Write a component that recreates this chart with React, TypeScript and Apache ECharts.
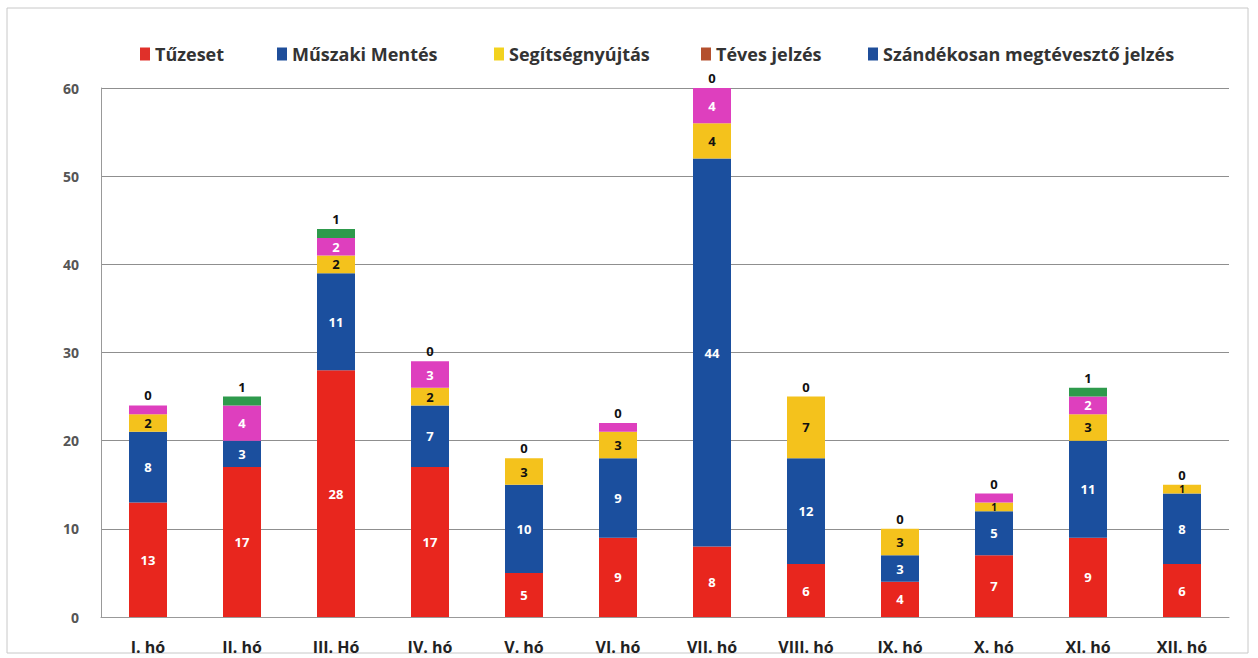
import React, { useEffect, useRef } from "react";
import * as echarts from "echarts";

const categories = ["I. hó", "II. hó", "III. Hó", "IV. hó", "V. hó", "VI. hó", "VII. hó", "VIII. hó", "IX. hó", "X. hó", "XI. hó", "XII. hó"];
const seriesNames = ["Tűzeset", "Műszaki Mentés", "Segítségnyújtás", "Téves jelzés", "Szándékosan megtévesztő jelzés"];
const tuzeset = [13, 17, 28, 17, 5, 9, 8, 6, 4, 7, 9, 6];
const muszaki = [8, 3, 11, 7, 10, 9, 44, 12, 3, 5, 11, 8];
const segitseg = [2, 0, 2, 2, 3, 3, 4, 7, 3, 1, 3, 1];
const teves = [1, 4, 2, 3, 0, 1, 4, 0, 0, 1, 2, 0];
const szandekos = [0, 1, 1, 0, 0, 0, 0, 0, 0, 0, 1, 0];
const yTicks = [0, 10, 20, 30, 40, 50, 60];

const barColors = ["#E8261E", "#1B4F9E", "#F4C21C", "#DE3FBE", "#2E9A4C"];
const legendColors = ["#E0302A", "#1F4E9A", "#F2D21E", "#B4502E", "#1F4E9A"];
const labelColors = ["#ffffff", "#ffffff", "#111111", "#ffffff", "#111111"];
const legendLefts = [135, 272, 489, 696, 863];

export default function App() {
  const ref = useRef<HTMLDivElement>(null);
  useEffect(() => {
    if (!ref.current) return;
    const chart = echarts.init(ref.current, null, { renderer: "svg" });
    const data = [tuzeset, muszaki, segitseg, teves, szandekos];
    const font = "'Open Sans', Lato, sans-serif";
    chart.setOption({
      animation: false,
      backgroundColor: "#ffffff",
      textStyle: { fontFamily: font },
      graphic: [
        {
          type: "rect",
          shape: { x: 7, y: 8, width: 1241, height: 645 },
          style: { fill: "none", stroke: "#c8c8c8", lineWidth: 1 },
        },
      ],
      legend: seriesNames.map((n, i) => ({
        top: 40,
        left: legendLefts[i],
        itemWidth: 10,
        itemHeight: 13,
        itemGap: 6,
        icon: "rect",
        textStyle: { fontSize: 18, fontWeight: "bold", color: "#333", fontFamily: font },
        data: [{ name: n, itemStyle: { color: legendColors[i] } }],
      })),
      grid: { left: 101, right: 29, top: 88, bottom: 41 },
      xAxis: {
        type: "category",
        data: categories,
        axisLine: { lineStyle: { color: "#999" } },
        axisTick: { show: false },
        axisLabel: { fontSize: 16, fontWeight: "bold", color: "#222", margin: 22, fontFamily: font },
      },
      yAxis: {
        type: "value",
        min: yTicks[0],
        max: yTicks[yTicks.length - 1],
        interval: 10,
        axisLine: { show: true, lineStyle: { color: "#999" } },
        axisTick: { show: false },
        axisLabel: { fontSize: 14, fontWeight: "bold", color: "#555", margin: 22, fontFamily: font },
        splitLine: { lineStyle: { color: "#8f8f8f", width: 1 } },
      },
      series: seriesNames.map((name, i) => ({
        name,
        type: "bar",
        stack: "total",
        barWidth: 38,
        data: data[i].map((v) =>
          i === 2 && v === 1 ? { value: v, label: { fontSize: 10, lineHeight: 9 } } : v
        ),
        itemStyle: { color: barColors[i] },
        label: {
          show: true,
          position: i === 4 ? "top" : "inside",
          distance: i === 4 ? 4 : 5,
          fontSize: 13,
          lineHeight: 12,
          fontWeight: "bold",
          color: labelColors[i],
          fontFamily: font,
          formatter: (p: any) => {
            if (i === 3 && p.value < 2) return "";
            if (i === 2 && p.value === 0) return "";
            return String(p.value);
          },
        },
      })),
    });
    return () => chart.dispose();
  }, []);
  return <div ref={ref} style={{ position: "absolute", left: 0, top: 0, width: 1258, height: 658 }} />;
}
